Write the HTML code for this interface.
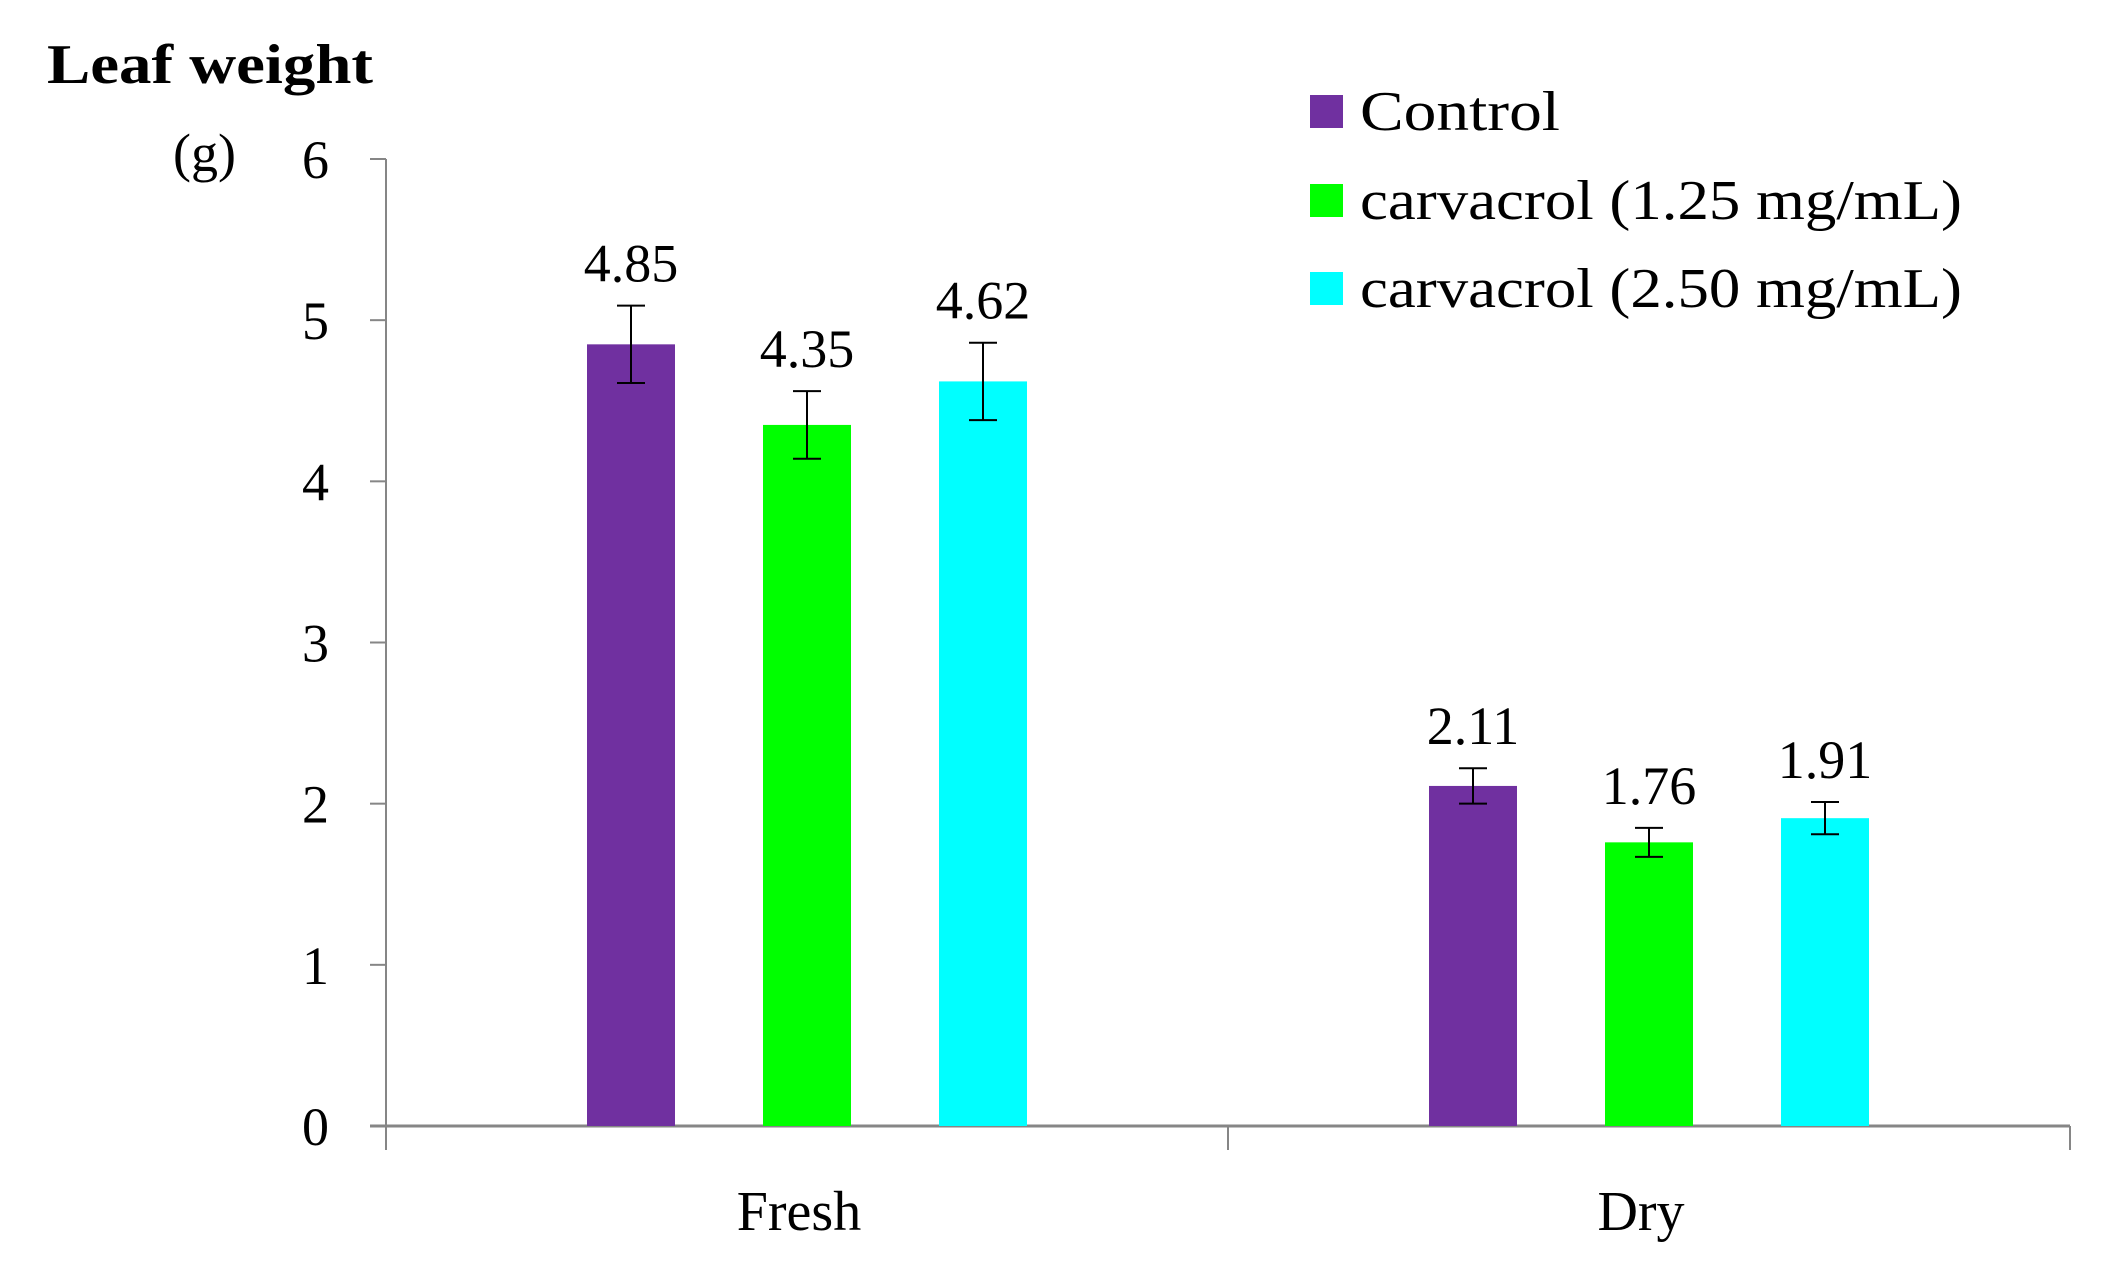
<!DOCTYPE html>
<html><head><meta charset="utf-8"><style>
html,body{margin:0;padding:0;background:#fff;}
svg{display:block;font-family:"Liberation Serif",serif;}
</style></head><body>
<svg id="chart" width="2110" height="1284" viewBox="0 0 2110 1284">
<text x="47" y="83" font-size="56" font-weight="bold" textLength="326" lengthAdjust="spacingAndGlyphs">Leaf weight</text>
<text x="173" y="171" font-size="54">(g)</text>
<g id="axes"></g><g id="bars"></g><g id="legend"></g>
</svg>
<script>
const categories = ["Fresh", "Dry"];
const seriesNames = ["Control", "carvacrol (1.25 mg/mL)", "carvacrol (2.50 mg/mL)"];
const seriesColors = ["#7030a0", "#00ff00", "#00ffff"];
const controlValues = [4.85, 2.11];
const low125Values = [4.35, 1.76];
const high250Values = [4.62, 1.91];
const controlErr = [0.24, 0.11];
const low125Err = [0.21, 0.09];
const high250Err = [0.24, 0.10];
const yTicks = [0, 1, 2, 3, 4, 5, 6];

const NS = "http://www.w3.org/2000/svg";
const X0 = 386, X1 = 2070, Y0 = 1126, Y6 = 159, YMAX = 6;
const y = v => Y0 - (v / YMAX) * (Y0 - Y6);
const catW = (X1 - X0) / categories.length;
const catCenter = i => X0 + catW * (i + 0.5);
const BW = 88, STEP = 176;
function mk(tag, attrs, parent) {
  const e = document.createElementNS(NS, tag);
  for (const k in attrs) e.setAttribute(k, attrs[k]);
  parent.appendChild(e); return e;
}
const axes = document.getElementById("axes");
const bars = document.getElementById("bars");
const legend = document.getElementById("legend");
const ax = mk("line", {x1: X0, y1: Y6, x2: X0, y2: Y0, stroke: "#868686", "stroke-width": 2}, axes);


const bx = mk("line", {x1: X0 - 16, y1: Y0, x2: X1, y2: Y0, stroke: "#868686", "stroke-width": 3}, axes);


yTicks.forEach(t => {
  const tk = mk("line", {x1: X0 - 16, y1: y(t), x2: X0, y2: y(t), stroke: "#868686", "stroke-width": 2}, axes);
  
  
  const tl = mk("text", {x: 329, y: y(t) + 19, "font-size": 54, "text-anchor": "end"}, axes);
  tl.textContent = t;
  
  
});
for (let i = 0; i <= categories.length; i++) {
  const xx = X0 + catW * i;
  const tk = mk("line", {x1: xx, y1: Y0, x2: xx, y2: Y0 + 24, stroke: "#868686", "stroke-width": 2}, axes);
  
  
}
categories.forEach((c, i) => {
  const t = mk("text", {x: catCenter(i) - 8, y: 1230, "font-size": 56, "text-anchor": "middle"}, axes);
  t.textContent = c;
  
  
});
const allVals = [controlValues, low125Values, high250Values];
const allErr = [controlErr, low125Err, high250Err];
allVals.forEach((vals, s) => {
  vals.forEach((v, i) => {
    const cx = catCenter(i) + (s - 1) * STEP;
    const r = mk("rect", {x: cx - BW / 2, y: y(v), width: BW, height: Y0 - y(v), fill: seriesColors[s]}, bars);
    
    
    const e = allErr[s][i];
    const top = y(v + e), bot = y(v - e);
    const g = mk("g", {stroke: "#000", "stroke-width": 2}, bars);
    
    
    mk("line", {x1: cx, y1: top, x2: cx, y2: bot}, g);
    mk("line", {x1: cx - 14, y1: top, x2: cx + 14, y2: top}, g);
    mk("line", {x1: cx - 14, y1: bot, x2: cx + 14, y2: bot}, g);
    const lbl = mk("text", {x: cx, y: top - 24, "font-size": 54, "text-anchor": "middle"}, bars);
    lbl.textContent = v.toFixed(2);
    
    
  });
});
const legYs = [111, 200, 288];
const legLens = [200, 602, 602];
seriesNames.forEach((n, s) => {
  const sw = mk("rect", {x: 1310, y: legYs[s] - 16, width: 33, height: 33, fill: seriesColors[s]}, legend);
  
  
  const t = mk("text", {x: 1360, y: legYs[s] + 19, "font-size": 56, textLength: legLens[s], lengthAdjust: "spacingAndGlyphs"}, legend);
  t.textContent = n;
  
  
});
</script>
</body></html>
